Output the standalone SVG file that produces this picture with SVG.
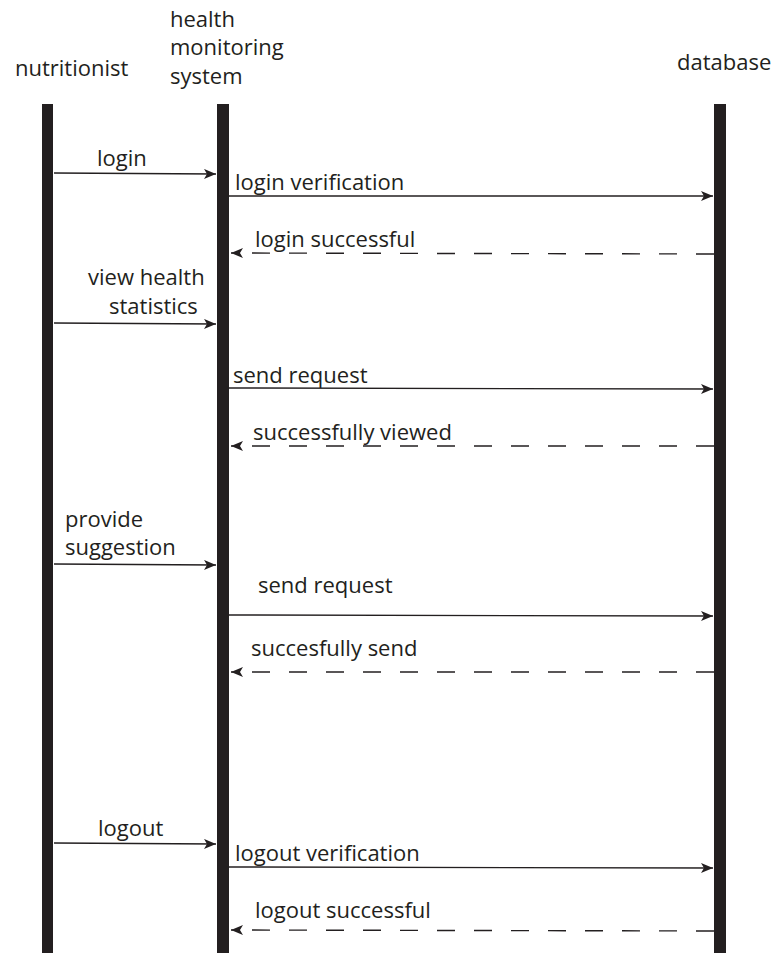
<svg xmlns="http://www.w3.org/2000/svg" width="774" height="953" viewBox="0 0 774 953">
<defs>
<style>
.t{font-family:"Open Sans","Noto Sans","Liberation Sans",sans-serif;font-size:22px;fill:#231f20}
.life{fill:#231f20}
.msg{stroke:#231f20;stroke-width:1.4;fill:none;marker-end:url(#ah)}
.ret{stroke:#231f20;stroke-width:1.4;fill:none;stroke-dasharray:18 19;marker-end:url(#ah)}
</style>
<marker id="ah" viewBox="0 0 12 10" refX="12" refY="5" markerWidth="12" markerHeight="10" markerUnits="userSpaceOnUse" orient="auto">
<path d="M0,0 L12,5 L0,10 L3,5 Z" fill="#231f20"/>
</marker>
</defs>
<rect width="774" height="953" fill="#fff"/>
<g id="nutritionist">
<text class="t" x="15" y="76">nutritionist</text>
<rect class="life" x="42" y="104" width="11" height="849"/>
</g>
<g id="system">
<text class="t" x="170" y="27">health</text>
<text class="t" x="170" y="55">monitoring</text>
<text class="t" x="170" y="84">system</text>
<rect class="life" x="217" y="104" width="12" height="849"/>
</g>
<g id="database">
<text class="t" x="677" y="70">database</text>
<rect class="life" x="714" y="104" width="12" height="849"/>
</g>
<g id="connectors">
<line class="msg" x1="54" y1="173" x2="216" y2="174"/>
<text class="t" x="97" y="166">login</text>
<line class="msg" x1="229" y1="196" x2="713" y2="196"/>
<text class="t" x="235" y="190">login verification</text>
<line class="ret" x1="714" y1="254" x2="231" y2="253"/>
<text class="t" x="255" y="247">login successful</text>
<line class="msg" x1="54" y1="323" x2="216" y2="324"/>
<text class="t" x="88" y="285">view health</text>
<text class="t" x="109" y="314">statistics</text>
<line class="msg" x1="229" y1="388" x2="713" y2="389"/>
<text class="t" x="233" y="383">send request</text>
<line class="ret" x1="714" y1="446" x2="231" y2="446"/>
<text class="t" x="253" y="440">successfully viewed</text>
<line class="msg" x1="54" y1="564" x2="216" y2="565"/>
<text class="t" x="65" y="527">provide</text>
<text class="t" x="65" y="555">suggestion</text>
<line class="msg" x1="229" y1="615" x2="713" y2="616"/>
<text class="t" x="258" y="593">send request</text>
<line class="ret" x1="714" y1="672" x2="231" y2="672"/>
<text class="t" x="251" y="656">succesfully send</text>
<line class="msg" x1="54" y1="843" x2="216" y2="844"/>
<text class="t" x="98" y="836">logout</text>
<line class="msg" x1="229" y1="867" x2="713" y2="868"/>
<text class="t" x="235" y="861">logout verification</text>
<line class="ret" x1="714" y1="931" x2="231" y2="930"/>
<text class="t" x="255" y="918">logout successful</text>
</g>
</svg>
